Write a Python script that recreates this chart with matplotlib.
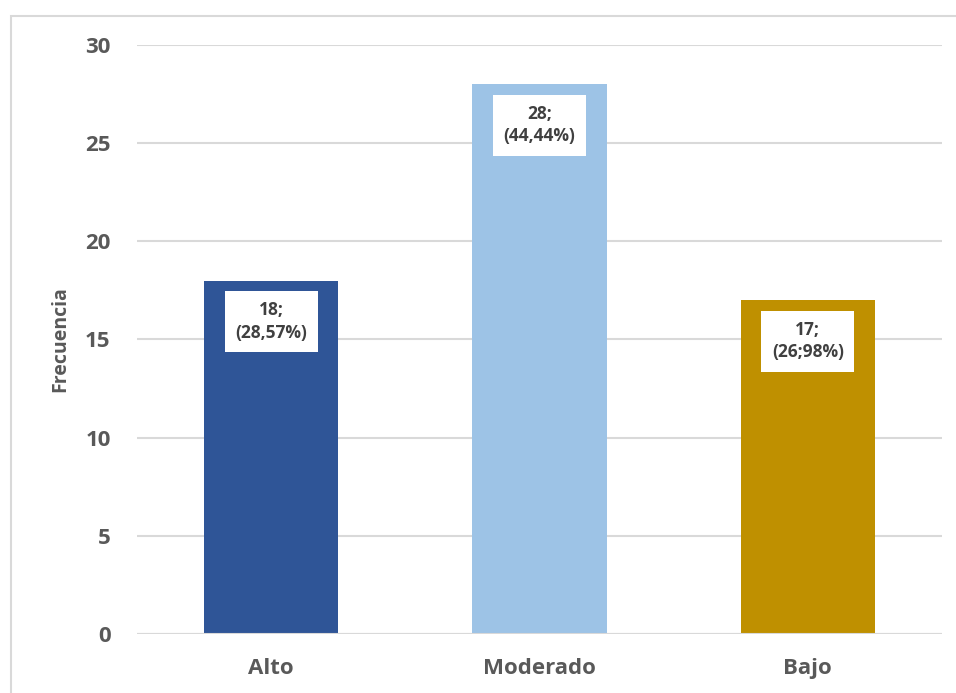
import matplotlib.pyplot as plt
from matplotlib.patches import Rectangle

plt.rcParams['font.family'] = ['Open Sans', 'DejaVu Sans']

categories = ['Alto', 'Moderado', 'Bajo']
values = [18, 28, 17]
labels = ['18;\n(28,57%)', '28;\n(44,44%)', '17;\n(26;98%)']
colors = ['#2F5597', '#9DC3E6', '#BF9000']
yticks = [0, 5, 10, 15, 20, 25, 30]

txt = '#595959'
grid = '#D9D9D9'

fig = plt.figure(figsize=(9.56, 6.93), dpi=100)
# outer chart border
fig.patches.append(Rectangle((11 / 956, -0.1), 1.2, 1 - 16 / 693 + 0.1,
                             transform=fig.transFigure, fill=False,
                             edgecolor=grid, lw=1.5))

ax = fig.add_axes([137 / 956, 1 - 634 / 693, 805 / 956, 589 / 693])
x = range(len(categories))
bars = ax.bar(x, values, width=0.5, color=colors, zorder=3)

for b, lab in zip(bars, labels):
    ax.annotate(lab, (b.get_x() + b.get_width() / 2, b.get_height()),
                xytext=(0, -15), textcoords='offset points',
                ha='center', va='top', fontsize=12.5, fontweight='bold',
                color='#404040', linespacing=1.3, zorder=5,
                bbox=dict(boxstyle='square,pad=0.6', fc='white', ec='none'))

ax.set_ylim(0, 30)
ax.set_xlim(-0.5, 2.5)
ax.set_yticks(yticks)
ax.set_xticks(list(x))
ax.set_xticklabels(categories)
ax.yaxis.grid(True, color=grid, lw=1.5, zorder=0)
for s in ax.spines.values():
    s.set_visible(False)
ax.axhline(0, color=grid, lw=1.5, zorder=4)
ax.tick_params(length=0, labelsize=16, labelcolor=txt)
ax.tick_params(axis='y', pad=19)
ax.tick_params(axis='x', pad=17)
for t in ax.get_xticklabels() + ax.get_yticklabels():
    t.set_fontweight('bold')
ax.set_ylabel('Frecuencia', fontsize=14, fontweight='bold', color=txt, labelpad=11)

fig.savefig('out.png', dpi=100)
